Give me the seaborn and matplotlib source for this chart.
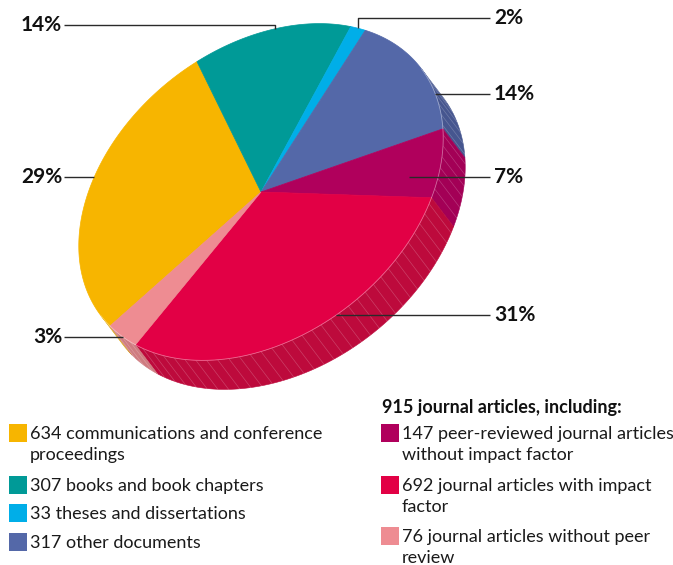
import numpy as np
import matplotlib
matplotlib.use("Agg")
import matplotlib.pyplot as plt
from matplotlib.patches import Polygon, Rectangle
import seaborn as sns

# Publication output by document type
categories = [
    "communications and conference\nproceedings",
    "books and book chapters",
    "theses and dissertations",
    "other documents",
    "peer-reviewed journal articles\nwithout impact factor",
    "journal articles with impact\nfactor",
    "journal articles without peer\nreview",
]
counts = [634, 307, 33, 317, 147, 692, 76]
left_items = [0, 1, 2, 3]
journal_items = [4, 5, 6]
group_title = "journal articles, including:"

top_colors = ["#f7b500", "#009a97", "#00aee8", "#5468a8", "#b0005c", "#e20045", "#ee8c92"]
side_colors = ["#d99f00", "#00807e", "#0090c0", "#46568f", "#a30056", "#bd0a3c", "#cf7b80"]

sns.set_theme(style="white")
plt.rcParams["font.family"] = ["Lato", "DejaVu Sans"]
top_pal = sns.color_palette(top_colors)
side_pal = sns.color_palette(side_colors)

W, H = 673, 565
fig = plt.figure(figsize=(W / 100, H / 100), dpi=100)
ax = fig.add_axes([0, 0, 1, 1])
ax.set_xlim(0, W)
ax.set_ylim(H, 0)
ax.axis("off")

# Tilted disc: page position = center + M @ (cos t, sin t); the rim is extruded by `depth`
center = np.array([261.0, 192.0])
M = np.array([[-151.0, -102.0], [134.0, -102.0]])
depth = np.array([22.0, 29.0])
e = np.linalg.solve(M, depth)


def rim(theta, r=1.0):
    theta = np.atleast_1d(theta)
    u = np.stack([np.cos(theta), np.sin(theta)], axis=-1)
    return center + r * (u @ M.T)


values = np.array(counts, float)
frac = values / values.sum()
bounds = np.concatenate([[0.0], np.cumsum(frac)]) * 2 * np.pi

# whole percentages that add up to 100 (largest remainder)
raw = frac * 100
pct = np.floor(raw).astype(int)
for i in np.argsort(-(raw - pct))[: 100 - pct.sum()]:
    pct[i] += 1

# side walls (only the part of the rim facing the viewer)
for i in range(len(values)):
    th = np.linspace(bounds[i], bounds[i + 1], 600)
    front = np.cos(th) * e[0] + np.sin(th) * e[1] > 0
    if front.sum() < 2:
        continue
    p = rim(th[front])
    wall = np.vstack([p, (p + depth)[::-1]])
    ax.add_patch(Polygon(wall, closed=True, facecolor=side_pal[i],
                         edgecolor=side_pal[i], lw=0.4, zorder=1))
    # facet lines on the wall
    seg = np.r_[0, np.cumsum(np.hypot(*np.diff(p, axis=0).T))]
    for s in np.arange(6.0, seg[-1], 11.0):
        k = np.searchsorted(seg, s)
        q = p[min(k, len(p) - 1)]
        ax.plot([q[0], q[0] + depth[0]], [q[1], q[1] + depth[1]],
                color="white", alpha=0.22, lw=0.5, zorder=2)
    ax.plot(p[:, 0], p[:, 1], color="white", alpha=0.4, lw=0.6, zorder=4)

# top face
for i in range(len(values)):
    th = np.linspace(bounds[i], bounds[i + 1], 300)
    p = rim(th)
    face = np.vstack([center, p])
    ax.add_patch(Polygon(face, closed=True, facecolor=top_pal[i],
                         edgecolor=top_pal[i], lw=0.5, zorder=3))

# percentage labels with leader lines: (position in slice, radius, side, elbow height)
leaders = {
    0: (0.56, 1.00, "left", None),
    1: (0.50, 1.00, "left", 25),
    2: (0.50, 1.00, "right", 18),
    3: (0.74, 1.00, "right", None),
    4: (0.66, 0.83, "right", None),
    5: (0.40, 1.00, "right", None),
    6: (0.45, 1.00, "left", None),
}
for i, (t, r, side, elbow) in leaders.items():
    th = bounds[i] + t * (bounds[i + 1] - bounds[i])
    a = rim(th, r)[0]
    y = a[1] if elbow is None else elbow
    x_end = 64 if side == "left" else 490
    xs, ys = [a[0], a[0], x_end], [a[1], y, y]
    ax.plot(xs, ys, color="#2a2a2a", lw=1.0, zorder=5, solid_capstyle="butt")
    if side == "left":
        ax.text(62, y, f"{pct[i]}%", ha="right", va="center", fontsize=15,
                fontweight="bold", color="#111111", zorder=6)
    else:
        ax.text(494, y, f"{pct[i]}%", ha="left", va="center", fontsize=15,
                fontweight="bold", color="#111111", zorder=6)

# legend blocks
def legend_column(items, x_sq, top):
    for i in items:
        lines = f"{counts[i]} {categories[i]}".split("\n")
        ax.add_patch(Rectangle((x_sq, top), 18, 18, facecolor=top_pal[i],
                               edgecolor="none", zorder=5))
        for k, line in enumerate(lines):
            ax.text(x_sq + 21, top + 10 + 21 * k, line, ha="left", va="center",
                    fontsize=13, color="#1a1a1a")
        top += 23 * len(lines) + 5.5


legend_column(left_items, 9, 424)
ax.text(382, 407, f"{sum(counts[i] for i in journal_items)} {group_title}",
        ha="left", va="center", fontsize=13, fontweight="bold", color="#111111")
legend_column(journal_items, 381, 424)

fig.savefig("out.png", dpi=100)
